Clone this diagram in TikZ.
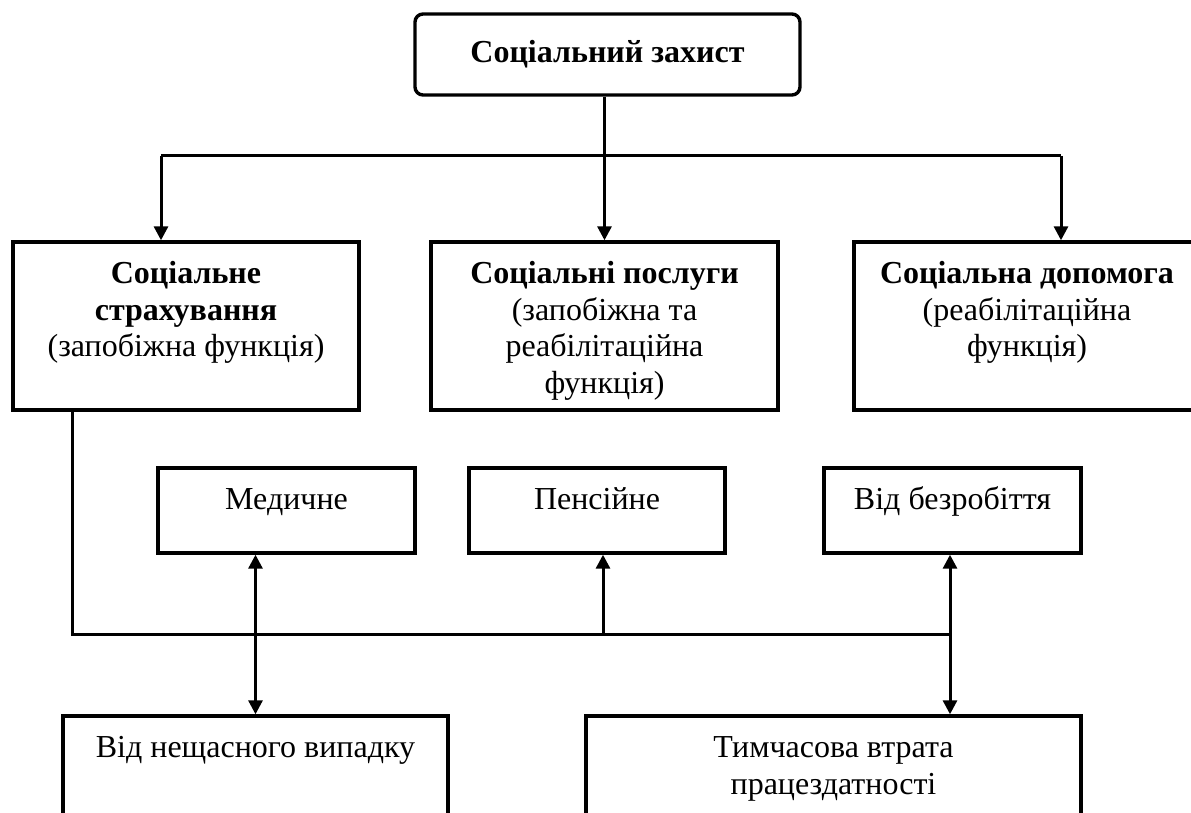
\documentclass[tikz,border=0pt]{standalone}
\usepackage{fontspec}
\setmainfont{Liberation Serif}
\usetikzlibrary{positioning,arrows.meta}
\tikzset{
  box/.style={draw, line width=3.4pt, inner sep=0pt},
  lbl/.style={align=center, inner sep=0pt, font=\fontsize{32}{36.5}\selectfont},
  conn/.style={line width=3pt},
  arr/.style={conn, -{Triangle[length=14pt,width=14pt]}},
  darr/.style={conn, {Triangle[length=14pt,width=14pt]}-{Triangle[length=14pt,width=14pt]}}
}
\begin{document}
\begin{tikzpicture}[x=1pt,y=-1pt]
        \useasboundingbox (0,0) rectangle (1191,813);

        % Top box
        \node[box, lbl, rounded corners=8pt, minimum width=385pt, minimum height=81pt] (zakhyst) at (607.5,54.5) {\textbf{Соціальний захист}};

        % Main boxes
        \node[box, minimum width=346pt, minimum height=168pt] (strakh) at (186,326) {};
        \node[box, minimum width=347pt, minimum height=168pt] (posluhy) at (604.5,326) {};
        \node[box, minimum width=346pt, minimum height=168pt] (dopomoha) at (1027,326) {};
        \node[lbl, below=17.5pt of strakh.north] (strakh-t) {\strut\textbf{Соціальне}\\\textbf{страхування}\\(запобіжна функція)};
        \node[lbl, below=17.5pt of posluhy.north] (posluhy-t) {\strut\textbf{Соціальні послуги}\\(запобіжна та\\реабілітаційна\\функція)};
        \node[lbl, below=17.5pt of dopomoha.north] (dopomoha-t) {\strut\textbf{Соціальна допомога}\\(реабілітаційна\\функція)};

        % Kinds of insurance
        \node[box, minimum width=257pt, minimum height=85pt] (medychne) at (286.5,510.5) {};
        \node[box, minimum width=256pt, minimum height=85pt] (pensiine) at (597,510.5) {};
        \node[box, minimum width=257pt, minimum height=85pt] (bezrob) at (952.5,510.5) {};
        \node[lbl, below=17.5pt of medychne.north] (medychne-t) {\strut Медичне};
        \node[lbl, below=17.5pt of pensiine.north] (pensiine-t) {\strut Пенсійне};
        \node[lbl, below=17.5pt of bezrob.north] (bezrob-t) {\strut Від безробіття};

        % Bottom boxes (cut by the page edge)
        \node[box, minimum width=385pt, minimum height=100pt] (vypadok) at (255.5,766) {};
        \node[box, minimum width=495pt, minimum height=100pt] (vtrata) at (833.5,766) {};
        \node[lbl, below=17.5pt of vypadok.north] (vypadok-t) {\strut Від нещасного випадку};
        \node[lbl, below=17.5pt of vtrata.north] (vtrata-t) {\strut Тимчасова втрата\\працездатності};

        % Upper bus
        \coordinate (busL) at (161,156);
        \coordinate (busR) at (1061,156);
        \draw[conn] (busL) -- (busR);
        \draw[arr] (busL) -- (busL |- strakh.north);
        \draw[arr] (busR) -- (busR |- dopomoha.north);
        \draw[arr] (zakhyst.south -| posluhy.north) -- (posluhy.north);

        % Lower bus
        \coordinate (bus2L) at (72,634);
        \coordinate (bus2R) at (950,634);
        \coordinate (jointP) at (603,634);
        \draw[conn] (strakh.south -| bus2L) -- (bus2L) -- (bus2R);
        \draw[arr] (jointP) -- (jointP |- pensiine.south);
        \draw[darr] (vypadok.north |- medychne.south) -- (vypadok.north);
        \draw[darr] (bus2R |- bezrob.south) -- (bus2R |- vtrata.north);
\end{tikzpicture}
\end{document}
